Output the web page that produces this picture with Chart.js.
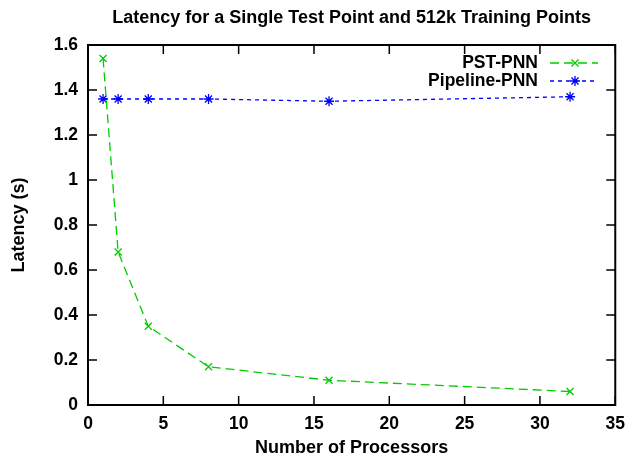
<!DOCTYPE html>
<html>
<head>
<meta charset="utf-8">
<script src="https://cdn.jsdelivr.net/npm/chart.js@4.4.0/dist/chart.umd.min.js"></script>
<style>
  html, body { margin: 0; padding: 0; background: #fff; }
</style>
</head>
<body>
<canvas id="grafico" width="634" height="460"></canvas>
<script>
// dados
const processadores = [1, 2, 4, 8, 16, 32];
const pstPnn = [1.54, 0.68, 0.35, 0.17, 0.11, 0.06];
const pipelinePnn = [1.36, 1.36, 1.36, 1.36, 1.35, 1.37];
const nomes = ["PST-PNN", "Pipeline-PNN"];
const titulo = "Latency for a Single Test Point and 512k Training Points";

const fonte = "'Liberation Sans', Arial, Helvetica, sans-serif";
const verde = "rgb(0,204,0)";
const azul = "rgb(0,0,255)";

function pontos(valores) {
  return processadores.map((p, i) => ({ x: p, y: valores[i] }));
}

// moldura, marcas internas, título e legenda no estilo gnuplot
const estiloGnuplot = {
  id: "estiloGnuplot",
  afterDatasetsDraw(chart) {
    const { ctx, chartArea: { left, right, top, bottom }, scales: { x, y } } = chart;
    ctx.save();
    ctx.strokeStyle = "#000";
    ctx.lineWidth = 1.5;
    x.ticks.forEach(t => {
      const px = x.getPixelForValue(t.value);
      ctx.beginPath();
      ctx.moveTo(px, bottom); ctx.lineTo(px, bottom - 9);
      ctx.moveTo(px, top); ctx.lineTo(px, top + 9);
      ctx.stroke();
    });
    y.ticks.forEach(t => {
      const py = y.getPixelForValue(t.value);
      ctx.beginPath();
      ctx.moveTo(left, py); ctx.lineTo(left + 9, py);
      ctx.moveTo(right, py); ctx.lineTo(right - 9, py);
      ctx.stroke();
    });
    ctx.lineWidth = 2;
    ctx.strokeRect(left, top, right - left, bottom - top);

    // título centrado sobre a área do gráfico
    ctx.fillStyle = "#000";
    ctx.font = "bold 18px " + fonte;
    ctx.textAlign = "center";
    ctx.textBaseline = "middle";
    ctx.fillText(titulo, (left + right) / 2, 18);

    // legenda
    ctx.font = "bold 17.5px " + fonte;
    ctx.textAlign = "right";
    chart.data.datasets.forEach((ds, i) => {
      const ly = 63 + i * 18;
      ctx.fillStyle = "#000";
      ctx.fillText(ds.label, 538, ly);
      ctx.save();
      ctx.strokeStyle = ds.borderColor;
      ctx.lineWidth = ds.borderWidth;
      ctx.setLineDash(ds.borderDash);
      ctx.beginPath();
      ctx.moveTo(550, ly); ctx.lineTo(598, ly);
      ctx.stroke();
      ctx.restore();
      ctx.save();
      ctx.strokeStyle = ds.borderColor;
      ctx.fillStyle = ds.borderColor;
      ctx.lineWidth = ds.pointBorderWidth;
      Chart.helpers.drawPoint(ctx, {
        pointStyle: ds.pointStyle,
        radius: ds.pointRadius,
        borderWidth: ds.pointBorderWidth,
        rotation: 0
      }, 575, ly);
      ctx.restore();
    });
    ctx.restore();
  }
};

const grafico = new Chart(document.getElementById("grafico"), {
  type: "line",
  data: {
    datasets: [{
      label: nomes[0],
      data: pontos(pstPnn),
      borderColor: verde,
      backgroundColor: verde,
      borderWidth: 1.3,
      borderDash: [9, 5],
      pointStyle: "crossRot",
      pointRadius: 5,
      pointBorderWidth: 1.3,
      pointBorderColor: verde,
      tension: 0
    }, {
      label: nomes[1],
      data: pontos(pipelinePnn),
      borderColor: azul,
      backgroundColor: azul,
      borderWidth: 1.3,
      borderDash: [4, 4],
      pointStyle: "star",
      pointRadius: 5,
      pointBorderWidth: 1.3,
      pointBorderColor: azul,
      tension: 0
    }]
  },
  options: {
    responsive: false,
    animation: false,
    layout: { padding: { top: 45, right: 15, left: 0, bottom: 0 } },
    plugins: {
      legend: { display: false },
      title: { display: false },
      tooltip: { enabled: false }
    },
    scales: {
      x: {
        type: "linear",
        min: 0, max: 35,
        ticks: { stepSize: 5, padding: 9, color: "#000", font: { family: fonte, size: 17.5, weight: "bold" } },
        grid: { display: false, drawTicks: false },
        border: { display: false },
        title: { display: true, text: "Number of Processors", color: "#000", padding: { top: 0, bottom: 1 }, font: { family: fonte, size: 18, weight: "bold" } },
        afterFit(s) { s.height = 55; }
      },
      y: {
        min: 0, max: 1.6,
        ticks: {
          stepSize: 0.2, padding: 10, color: "#000",
          font: { family: fonte, size: 17.5, weight: "bold" },
          callback: v => String(Math.round(v * 10) / 10)
        },
        grid: { display: false, drawTicks: false },
        border: { display: false },
        title: { display: true, text: "Latency (s)", color: "#000", padding: { top: 8, bottom: 0 }, font: { family: fonte, size: 18, weight: "bold" } },
        afterFit(s) { s.width = 88; }
      }
    }
  },
  plugins: [estiloGnuplot]
});
</script>
</body>
</html>
